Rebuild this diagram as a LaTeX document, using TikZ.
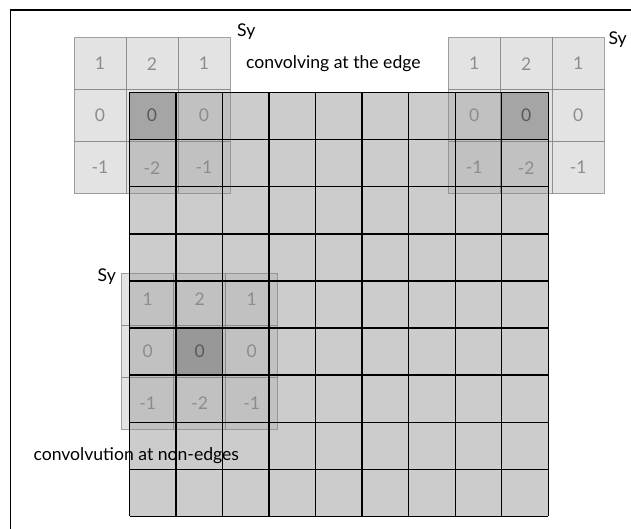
\documentclass[tikz,border=0pt]{standalone}
\usepackage{fontspec}
\setmainfont{Lato}
\definecolor{gridfill}{HTML}{CCCCCC}
\definecolor{darkcell}{HTML}{A0A0A0}
\definecolor{kernfill}{HTML}{AFAFAF}
\definecolor{kernline}{HTML}{8A8A8A}
\definecolor{numgray}{HTML}{8C8C8C}
\tikzset{
  frameline/.style={line width=1.3pt, black},
  gridline/.style={line width=1.4pt, black},
  kerncell/.style={fill=kernfill, fill opacity=0.35, draw=kernline, draw opacity=0.8, line width=1pt},
  kernnum/.style={text=numgray, font=\fontsize{17.5}{20}\selectfont, inner sep=0pt},
  centernum/.style={kernnum, text=black!65},
  caption/.style={anchor=base west, inner sep=0pt, font=\fontsize{17.6}{20}\selectfont}
}
\newcommand\drawkernel[3]{% x0, y0, name
  \foreach \r/\a/\b/\c in {0/1/2/1, 1/0/0/0, 2/-1/-2/-1}{
    \foreach \col/\v in {0/\a, 1/\b, 2/\c}{
      \draw[kerncell] ({#1+52*\col},{#2+52*\r}) rectangle +(52,52);
    }
  }
  \foreach \r/\a/\b/\c in {0/1/2/1, 1/0/0/0, 2/-1/-2/-1}{
    \foreach \col/\v in {0/\a, 1/\b, 2/\c}{
      \ifnum\r=1 \ifnum\col=1
        \node[centernum] (#3-\r-\col) at ({#1+26+52*\col},{#2+26+52*\r}) {\v};
      \else
        \node[kernnum] (#3-\r-\col) at ({#1+26+52*\col},{#2+26+52*\r}) {\v};
      \fi\else
        \node[kernnum] (#3-\r-\col) at ({#1+26+52*\col},{#2+26+52*\r}) {\v};
      \fi
    }
  }
}
\begin{document}
\begin{tikzpicture}[x=1pt,y=-1pt]
\useasboundingbox (0,0) rectangle (631,529);
% frame
\coordinate (fbl) at (10.7,529);
\coordinate (ftl) at (10.7,10);
\coordinate (ftr) at (631,10);
\draw[frameline] (fbl) -- (ftl) -- (ftr);
% grid background
\def\gx{129.5}\def\gy{92.5}\def\gw{46.53}\def\gh{47.11}
\fill[gridfill] (\gx,\gy) rectangle ({\gx+9*\gw},{\gy+9*\gh});
% highlighted centre cells
\fill[darkcell] (\gx,\gy) rectangle +(\gw,\gh);
\fill[darkcell] ({\gx+8*\gw},\gy) rectangle +(\gw,\gh);
\fill[darkcell!88!black] ({\gx+\gw},{\gy+5*\gh}) rectangle +(\gw,\gh);
% kernels (fills + borders)
\drawkernel{74}{37.7}{kTL}
\drawkernel{448.3}{37.7}{kTR}
\drawkernel{121.7}{273.3}{kBL}
% grid lines
\foreach \i in {0,...,9}{
  \draw[gridline] ({\gx+\i*\gw},\gy) -- ({\gx+\i*\gw},{\gy+9*\gh});
  \draw[gridline] (\gx,{\gy+\i*\gh}) -- ({\gx+9*\gw},{\gy+\i*\gh});
}
% labels
\node[caption] (syTL) at (237,36.7) {Sy};
\node[caption] (capTop) at (246,68.3) {convolving at the edge};
\node[caption] (syTR) at (608.3,45) {Sy};
\node[caption] (syBL) at (97.5,281.7) {Sy};
\node[caption] (capBot) at (33.3,460.7) {convolvution at non-edges};
\end{tikzpicture}
\end{document}
